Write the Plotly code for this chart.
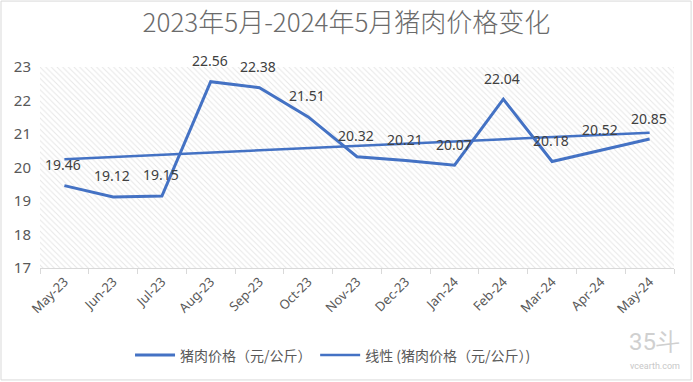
import numpy as np
import plotly.graph_objects as go

months = ["May-23", "Jun-23", "Jul-23", "Aug-23", "Sep-23", "Oct-23", "Nov-23",
          "Dec-23", "Jan-24", "Feb-24", "Mar-24", "Apr-24", "May-24"]
prices = [19.46, 19.12, 19.15, 22.56, 22.38, 21.51, 20.32, 20.21, 20.07, 22.04, 20.18, 20.52, 20.85]
y_min, y_max = 17, 23

idx = np.arange(1, len(prices) + 1)
slope, intercept = np.polyfit(idx, prices, 1)
trend = list(slope * idx + intercept)

blue = "#4472C4"
fig = go.Figure()

# hatched plot background
fig.add_trace(go.Bar(
    x=months, y=[y_max - y_min] * len(months), base=y_min, width=1,
    marker=dict(color="white", line=dict(width=0),
                pattern=dict(shape="\\", fgcolor="#cfcfcf", bgcolor="white", size=4, solidity=0.25)),
    showlegend=False, hoverinfo="skip"))

fig.add_trace(go.Scatter(
    x=months, y=prices, mode="lines", name="猪肉价格（元/公斤）",
    line=dict(color=blue, width=3), legend="legend"))

fig.add_trace(go.Scatter(
    x=months, y=trend, mode="lines", name="线性 (猪肉价格（元/公斤）)",
    line=dict(color=blue, width=2.5), legend="legend2"))

annotations = [
    dict(x=m, y=v, text=f"{v:.2f}", showarrow=False, yshift=21, xshift=-1,
         font=dict(size=14, color="#404040", family="Noto Sans, sans-serif"))
    for m, v in zip(months, prices)
]
annotations += [
    dict(text="35斗", xref="paper", yref="paper", x=0.97, y=-0.37, showarrow=False,
         font=dict(size=24, color="#d0d0d0", family="Roboto"), xanchor="center", yanchor="middle"),
    dict(text="vcearth.com", xref="paper", yref="paper", x=0.97, y=-0.49, showarrow=False,
         font=dict(size=9, color="#c8c8c8", family="Roboto"), xanchor="center", yanchor="middle"),
]

legend_style = dict(orientation="h", xanchor="left", y=-0.435, yanchor="middle",
                    font=dict(size=14, color="#595959"), itemwidth=40, bgcolor="rgba(0,0,0,0)")

fig.update_layout(
    width=693, height=382,
    margin=dict(l=40, r=19, t=67, b=114, autoexpand=False),
    paper_bgcolor="white", plot_bgcolor="white",
    font=dict(family="Noto Sans CJK SC, Noto Sans, sans-serif", color="#595959"),
    title=dict(text="2023年5月-2024年5月猪肉价格变化", x=0.5, xanchor="center",
               y=0.94, yanchor="middle", font=dict(size=26, color="#6b6b6b", weight=300)),
    bargap=0,
    showlegend=True,
    legend=dict(x=0.142, **legend_style),
    legend2=dict(x=0.434, **legend_style),
    xaxis=dict(type="category", tickson="boundaries", ticks="outside", ticklen=5,
               tickcolor="#d9d9d9", showline=True, linecolor="#d9d9d9", linewidth=1,
               showgrid=False, tickangle=-45, automargin=False,
               tickfont=dict(size=13, color="#595959", family="Noto Sans, sans-serif"),
               range=[-0.5, len(months) - 0.5]),
    yaxis=dict(range=[y_min, y_max], dtick=1, showgrid=True, gridcolor="#d9d9d9",
               zeroline=False, showline=False, automargin=False,
               tickfont=dict(size=15, color="#595959", family="Noto Sans, sans-serif"),
               ticklabelstandoff=8),
    shapes=[dict(type="rect", xref="paper", yref="paper", x0=-0.0615, x1=1.027, y0=-0.557, y1=1.328,
                 line=dict(color="#d9d9d9", width=1))],
    annotations=annotations,
)

fig.write_html("out.html", config={"displayModeBar": False},
               post_script="document.body.style.margin='0';document.body.style.padding='0';")
